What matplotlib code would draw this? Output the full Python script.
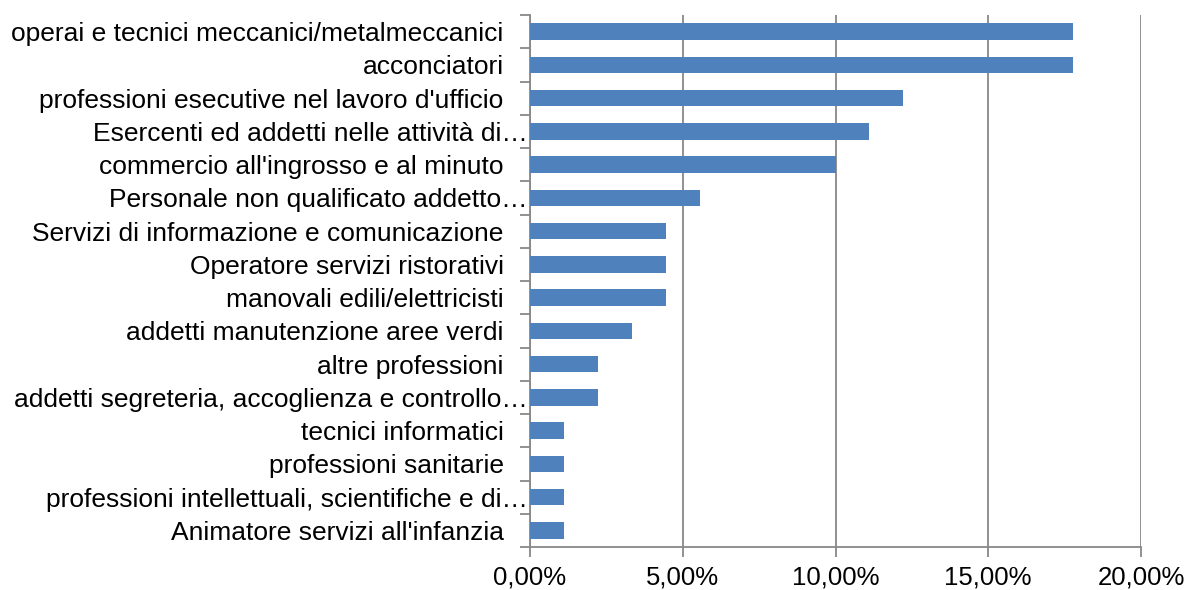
import matplotlib.pyplot as plt
import numpy as np
from matplotlib.ticker import FuncFormatter, FixedLocator
from matplotlib.transforms import ScaledTranslation

plt.rcParams['font.family'] = ['Liberation Sans', 'DejaVu Sans']

categories = ["operai e tecnici meccanici/metalmeccanici",
              "acconciatori",
              "professioni esecutive nel lavoro d'ufficio",
              "Esercenti ed addetti nelle attività di…",
              "commercio all'ingrosso e al minuto",
              "Personale non qualificato addetto…",
              "Servizi di informazione e comunicazione",
              "Operatore servizi ristorativi",
              "manovali edili/elettricisti",
              "addetti manutenzione aree verdi",
              "altre professioni",
              "addetti segreteria, accoglienza e controllo…",
              "tecnici informatici",
              "professioni sanitarie",
              "professioni intellettuali, scientifiche e di…",
              "Animatore servizi all'infanzia"]
values = [17.78, 17.78, 12.22, 11.11, 10.00, 5.56, 4.44, 4.44, 4.44,
          3.33, 2.22, 2.22, 1.11, 1.11, 1.11, 1.11]
xticks = [0, 5, 10, 15, 20]

fig = plt.figure(figsize=(11.89, 5.9), dpi=100)
ax = fig.add_axes([530/1189, 1-547/590, (1141-530)/1189, (547-15)/590])

y = np.arange(len(categories))
ax.barh(y, values, height=0.5, color='#4F81BD', zorder=3)
ax.set_ylim(len(categories) - 0.5, -0.5)
ax.set_xlim(0, 20)

ax.set_yticks(y)
ax.set_yticklabels(categories, fontsize=19)
ax.yaxis.set_minor_locator(FixedLocator(np.arange(-0.5, len(categories), 1)))
ax.tick_params(axis='y', which='major', length=0, pad=19)
ax.tick_params(axis='y', which='minor', length=7, color='#888888', width=1.3)

# truncated labels sit further right, like in the original
shift = ScaledTranslation(0.24, 0, fig.dpi_scale_trans)
for lab in ax.get_yticklabels():
    if lab.get_text().endswith('…'):
        lab.set_transform(lab.get_transform() + shift)

ax.set_xticks(xticks)
ax.xaxis.set_major_formatter(FuncFormatter(lambda v, p: f"{v:.2f}%".replace('.', ',')))
ax.tick_params(axis='x', length=7, color='#888888', width=1.3, labelsize=18.5, pad=6)

ax.grid(axis='x', color='#888888', linewidth=1.3, zorder=0)
for s in ['top', 'right']:
    ax.spines[s].set_visible(False)
for s in ['left', 'bottom']:
    ax.spines[s].set_color('#888888')
    ax.spines[s].set_linewidth(1.3)

fig.savefig('out.png', dpi=100)
